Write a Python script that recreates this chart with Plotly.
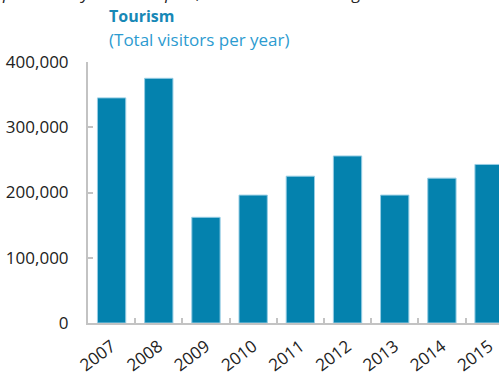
import plotly.graph_objects as go

years = ["2007", "2008", "2009", "2010", "2011", "2012", "2013", "2014", "2015"]
visitors = [345000, 375000, 162000, 196000, 225000, 256000, 196000, 222000, 243000]

y_ticks = [0, 100000, 200000, 300000, 400000]
title_text = "Tourism"
subtitle_text = "(Total visitors per year)"
lead_text = "pleasure by the main port, as total has been higher"

BAR = "rgb(4,130,174)"
AXIS = "#c3c3c3"
FONT = "Open Sans"

fig = go.Figure(
    go.Bar(
        x=years,
        y=visitors,
        marker=dict(color=BAR, line=dict(color="rgba(150,205,228,1)", width=1)),
        width=0.6,
    )
)

fig.update_layout(
    width=499,
    height=373,
    margin=dict(l=88, r=0, t=62, b=50),
    paper_bgcolor="white",
    plot_bgcolor="white",
    showlegend=False,
    font=dict(family=FONT, size=17, color="#222222"),
)

fig.update_xaxes(
    type="category",
    range=[-0.5, 8.21],
    automargin=False,
    showline=True,
    linecolor=AXIS,
    linewidth=2,
    ticks="inside",
    tickson="boundaries",
    ticklen=5,
    tickwidth=2,
    tickcolor=AXIS,
    tickangle=-37,
    ticklabelstandoff=5,
    showgrid=False,
    zeroline=False,
    tickfont=dict(family=FONT, size=17, color="#222222"),
)

fig.update_yaxes(
    range=[0, 400000],
    tickvals=y_ticks,
    tickformat=",",
    automargin=False,
    showline=True,
    linecolor=AXIS,
    linewidth=2,
    ticks="inside",
    ticklen=5,
    tickwidth=2,
    tickcolor=AXIS,
    showgrid=False,
    zeroline=False,
    ticklabelstandoff=14,
    tickfont=dict(family=FONT, size=17, color="#222222"),
)

fig.add_annotation(
    text=f"<b>{title_text}</b>", xref="paper", yref="paper",
    x=(107 - 88) / 411, y=1, xanchor="left", yanchor="bottom", yshift=33,
    showarrow=False, font=dict(family=FONT, size=16, color="#1788b6"),
)
fig.add_annotation(
    text=subtitle_text, xref="paper", yref="paper",
    x=(107 - 88) / 411, y=1, xanchor="left", yanchor="bottom", yshift=9,
    showarrow=False, font=dict(family=FONT, size=17, color="#2c9bd0"),
)
# opening line of the caption above the chart, mostly beyond the top edge
fig.add_annotation(
    text=f"<i>{lead_text}</i>", xref="paper", yref="paper",
    x=-88 / 411, y=1, xanchor="left", yanchor="bottom", yshift=56,
    showarrow=False, font=dict(family=FONT, size=17, color="#222222"),
)

fig.write_html("out.html")
